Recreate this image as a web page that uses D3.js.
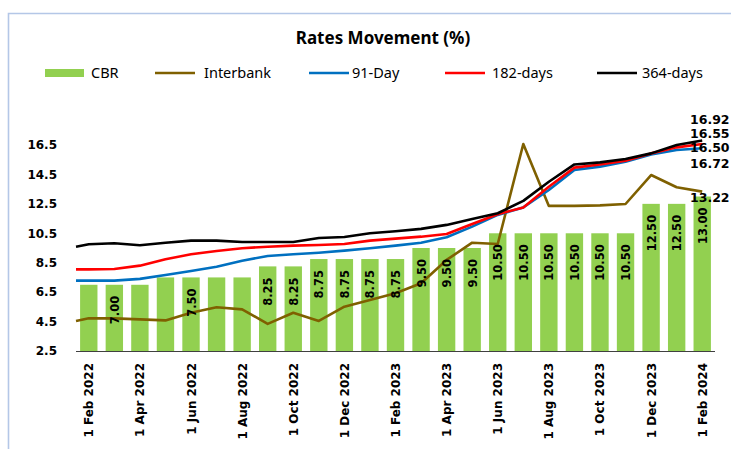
<!DOCTYPE html>
<html>
<head>
<meta charset="utf-8">
<script src="https://cdn.jsdelivr.net/npm/d3@7"></script>
<style>
  body { margin: 0; background: #fff; }
  svg { display: block; }
</style>
</head>
<body>
<div id="chart"></div>
<script>
// months shown as bars (Feb 2022 .. Feb 2024)
var months = ["1 Feb 2022","1 Mar 2022","1 Apr 2022","1 May 2022","1 Jun 2022","1 Jul 2022",
  "1 Aug 2022","1 Sep 2022","1 Oct 2022","1 Nov 2022","1 Dec 2022","1 Jan 2023","1 Feb 2023",
  "1 Mar 2023","1 Apr 2023","1 May 2023","1 Jun 2023","1 Jul 2023","1 Aug 2023","1 Sep 2023",
  "1 Oct 2023","1 Nov 2023","1 Dec 2023","1 Jan 2024","1 Feb 2024"];

var cbr = [7.00,7.00,7.00,7.50,7.50,7.50,7.50,8.25,8.25,8.75,8.75,8.75,8.75,
  9.50,9.50,9.50,10.50,10.50,10.50,10.50,10.50,10.50,12.50,12.50,13.00];
// which CBR bars carry a label in the original
var cbrLabelled = [1,4,7,8,9,10,11,12,13,14,15,16,17,18,19,20,21,22,23,24];

// line series: first value sits at the left edge of the plot (half a month before Feb 2022)
var interbank = [4.54, 4.72,4.72,4.65,4.58,5.10,5.47,5.33,4.34,5.10,4.54,5.51,5.97,6.42,
  7.10,8.69,9.86,9.77,16.57,12.36,12.36,12.40,12.49,14.46,13.63,13.33];
var day91 = [7.28, 7.28,7.28,7.40,7.67,7.94,8.23,8.64,8.96,9.07,9.18,9.32,9.48,9.66,
  9.86,10.23,10.95,11.75,12.26,13.44,14.80,15.03,15.37,15.86,16.16,16.28];
var day182 = [8.05, 8.05,8.07,8.30,8.73,9.07,9.30,9.48,9.59,9.66,9.70,9.77,10.00,10.14,
  10.27,10.45,11.13,11.79,12.26,13.66,14.96,15.18,15.43,15.93,16.34,16.57];
var day364 = [9.59, 9.75,9.82,9.69,9.86,10.00,10.00,9.91,9.91,9.91,10.18,10.25,10.50,10.64,
  10.80,11.07,11.47,11.86,12.70,14.00,15.18,15.32,15.55,15.93,16.50,16.80];

var yTicks = [2.5,4.5,6.5,8.5,10.5,12.5,14.5,16.5];
var endLabels = ["16.92","16.55","16.50","16.72","13.22"];

var W = 731, H = 449;
var left = 76, right = 715, bottom = 351, top16 = 145;

var svg = d3.select("#chart").append("svg").attr("width", W).attr("height", H);

// light frame (top and left edges visible)
svg.append("path")
  .attr("d", "M8.5," + H + "V13.5H" + W)
  .attr("fill", "none").attr("stroke", "#b4c7e7").attr("stroke-width", 1.6);

var x = d3.scaleLinear().domain([-0.5, months.length - 0.5]).range([left, right]);
var y = d3.scaleLinear().domain([2.5, 16.5]).range([bottom, top16]);
var barW = (x(1) - x(0)) * 0.68;

// title
svg.append("text")
  .attr("x", 383).attr("y", 44)
  .attr("text-anchor", "middle")
  .style("font", "bold 17px 'Noto Sans'")
  .text("Rates Movement (%)");

// bars
svg.selectAll("rect.cbr").data(cbr).enter().append("rect")
  .attr("class", "cbr")
  .attr("x", function(d, i) { return x(i) - barW / 2; })
  .attr("y", function(d) { return y(d); })
  .attr("width", barW)
  .attr("height", function(d) { return bottom - y(d); })
  .attr("fill", "#92d050");

// x axis line
svg.append("line")
  .attr("x1", left).attr("x2", right).attr("y1", bottom + 0.5).attr("y2", bottom + 0.5)
  .attr("stroke", "#404040").attr("stroke-width", 1.2);

// lines
var series = [
  {name: "Interbank", values: interbank, color: "#7f6000"},
  {name: "91-Day", values: day91, color: "#0070c0"},
  {name: "182-days", values: day182, color: "#ff0000"},
  {name: "364-days", values: day364, color: "#000000"}
];
var line = d3.line()
  .x(function(d, i) { return i === 0 ? x(-0.5) : x(i - 1); })
  .y(function(d) { return y(d); });

svg.selectAll("path.series").data(series).enter().append("path")
  .attr("class", "series")
  .attr("d", function(s) { return line(s.values); })
  .attr("fill", "none")
  .attr("stroke", function(s) { return s.color; })
  .attr("stroke-width", 2.6)
  .attr("stroke-linejoin", "round");

// y tick labels
svg.selectAll("text.ytick").data(yTicks).enter().append("text")
  .attr("class", "ytick")
  .attr("x", 57).attr("y", function(d) { return y(d); })
  .attr("dy", "0.36em")
  .attr("text-anchor", "end")
  .style("font", "bold 12px 'DejaVu Sans'")
  .text(function(d) { return d.toFixed(1); });

// x tick labels, every other month
svg.selectAll("text.xtick").data(months.filter(function(d, i) { return i % 2 === 0; }))
  .enter().append("text")
  .attr("class", "xtick")
  .attr("transform", function(d) {
    return "translate(" + (x(months.indexOf(d)) + 4.5) + "," + (bottom + 12) + ") rotate(-90)";
  })
  .attr("text-anchor", "end")
  .style("font", "bold 12px 'DejaVu Sans'")
  .text(function(d) { return d; });

// bar value labels (inside end)
svg.selectAll("text.barlab").data(cbrLabelled).enter().append("text")
  .attr("class", "barlab")
  .attr("transform", function(i) {
    return "translate(" + (x(i) + 4.5) + "," + (y(cbr[i]) + 11) + ") rotate(-90)";
  })
  .attr("text-anchor", "end")
  .style("font", "bold 11.5px 'DejaVu Sans'")
  .text(function(i) { return cbr[i].toFixed(2); });

// end-of-line value labels
var endY = [119, 133, 147, 163, 197];
svg.selectAll("text.endlab").data(endLabels).enter().append("text")
  .attr("class", "endlab")
  .attr("x", 690).attr("y", function(d, i) { return endY[i]; })
  .attr("dy", "0.36em")
  .style("font", "bold 12.5px 'DejaVu Sans'")
  .text(function(d) { return d; });

// legend
var legend = [
  {name: "CBR", color: "#92d050", type: "bar", x: 45, tx: 91},
  {name: "Interbank", color: "#7f6000", type: "line", x: 155, tx: 204},
  {name: "91-Day", color: "#0070c0", type: "line", x: 309, tx: 352},
  {name: "182-days", color: "#ff0000", type: "line", x: 445, tx: 492},
  {name: "364-days", color: "#000000", type: "line", x: 597, tx: 642}
];
var lg = svg.selectAll("g.leg").data(legend).enter().append("g").attr("class", "leg");
lg.filter(function(d) { return d.type === "bar"; }).append("rect")
  .attr("x", function(d) { return d.x; }).attr("y", 69)
  .attr("width", 39).attr("height", 8)
  .attr("fill", function(d) { return d.color; });
lg.filter(function(d) { return d.type === "line"; }).append("line")
  .attr("x1", function(d) { return d.x; }).attr("x2", function(d) { return d.x + 40; })
  .attr("y1", 73).attr("y2", 73)
  .attr("stroke", function(d) { return d.color; }).attr("stroke-width", 2.6);
lg.append("text")
  .attr("x", function(d) { return d.tx; }).attr("y", 73)
  .attr("dy", "0.36em")
  .style("font", "14.5px 'Noto Sans'")
  .text(function(d) { return d.name; });
</script>
</body>
</html>
